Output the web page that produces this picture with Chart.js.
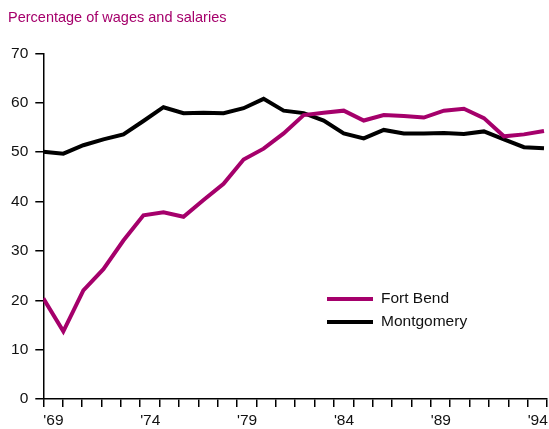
<!DOCTYPE html>
<html>
<head>
<meta charset="utf-8">
<script src="https://cdn.jsdelivr.net/npm/chart.js@4"></script>
<style>
  html, body { margin: 0; padding: 0; background: #fff; }
  #wrap { width: 549px; height: 429px; }
</style>
</head>
<body>
<div id="wrap"><canvas id="chart"></canvas></div>
<script>
const years = [1969, 1970, 1971, 1972, 1973, 1974, 1975, 1976, 1977, 1978, 1979, 1980, 1981,
               1982, 1983, 1984, 1985, 1986, 1987, 1988, 1989, 1990, 1991, 1992, 1993, 1994];
const fortBend = [20.4, 13.7, 22.0, 26.3, 32.1, 37.2, 37.8, 36.9, 40.3, 43.6, 48.5, 50.7, 53.8,
                  57.5, 58.0, 58.4, 56.4, 57.5, 57.3, 57.0, 58.4, 58.8, 56.9, 53.2, 53.6, 54.3];
const montgomery = [50.1, 49.7, 51.4, 52.6, 53.6, 56.3, 59.1, 57.9, 58.0, 57.9, 58.9, 60.8, 58.4,
                    57.9, 56.4, 53.8, 52.8, 54.5, 53.8, 53.8, 53.9, 53.7, 54.2, 52.6, 51.0, 50.8];
const tickLabels = ["'69", "'74", "'79", "'84", "'89", "'94"];

const magenta = '#a5006b';
const xMin = 1969, xMax = 1994.15, tickCount = 27;

// legend drawn inside the plot, lower right
const innerLegend = {
  id: 'innerLegend',
  afterDraw(chart) {
    const ctx = chart.ctx;
    ctx.save();
    ctx.font = '15.5px "Liberation Sans", Arial, sans-serif';
    ctx.textBaseline = 'middle';
    chart.data.datasets.forEach((ds, i) => {
      const y = 299 + i * 23;
      ctx.strokeStyle = ds.borderColor;
      ctx.lineWidth = 4;
      ctx.beginPath();
      ctx.moveTo(327, y);
      ctx.lineTo(373, y);
      ctx.stroke();
      ctx.fillStyle = '#111';
      ctx.fillText(ds.label, 381, y);
    });
    ctx.restore();
  }
};

new Chart(document.getElementById('chart'), {
  type: 'line',
  data: {
    datasets: [
      { label: 'Fort Bend', data: years.map((y, i) => ({x: y, y: fortBend[i]})),
        borderColor: magenta, borderWidth: 4, pointRadius: 0, tension: 0 },
      { label: 'Montgomery', data: years.map((y, i) => ({x: y, y: montgomery[i]})),
        borderColor: '#000', borderWidth: 4, pointRadius: 0, tension: 0 }
    ]
  },
  options: {
    responsive: true,
    maintainAspectRatio: false,
    animation: false,
    layout: { padding: { left: 8, right: 2, top: 0, bottom: 0 } },
    plugins: {
      legend: { display: false },
      tooltip: { enabled: false },
      title: {
        display: true,
        text: 'Percentage of wages and salaries',
        align: 'start',
        color: magenta,
        font: { family: '"Liberation Sans", Arial, sans-serif', size: 14.5, weight: 'normal' },
        padding: { top: 9, bottom: 27 }
      }
    },
    scales: {
      x: {
        type: 'linear',
        min: xMin,
        max: xMax,
        afterBuildTicks: (s) => {
          s.ticks = [];
          for (let i = 0; i < tickCount; i++) s.ticks.push({ value: xMin + i * (xMax - xMin) / (tickCount - 1) });
        },
        afterFit: (s) => { s.height = 30; s.paddingRight = 0; },
        ticks: {
          autoSkip: false,
          maxRotation: 0,
          align: 'start',
          padding: 4,
          color: '#111',
          font: { family: '"Liberation Sans", Arial, sans-serif', size: 15.5 },
          callback: (v, i) => (i % 5 === 0 ? tickLabels[i / 5] : '')
        },
        grid: { drawOnChartArea: false, drawTicks: true, tickLength: 8, color: '#000', lineWidth: 1.5 },
        border: { color: '#000', width: 1.5 }
      },
      y: {
        min: 0,
        max: 70,
        afterFit: (s) => { s.width = 35.3; },
        ticks: {
          stepSize: 10,
          padding: 7,
          color: '#111',
          font: { family: '"Liberation Sans", Arial, sans-serif', size: 15.5 }
        },
        grid: { drawOnChartArea: false, drawTicks: true, tickLength: 8, color: '#000', lineWidth: 1.5 },
        border: { color: '#000', width: 1.5 }
      }
    }
  },
  plugins: [innerLegend]
});
</script>
</body>
</html>
